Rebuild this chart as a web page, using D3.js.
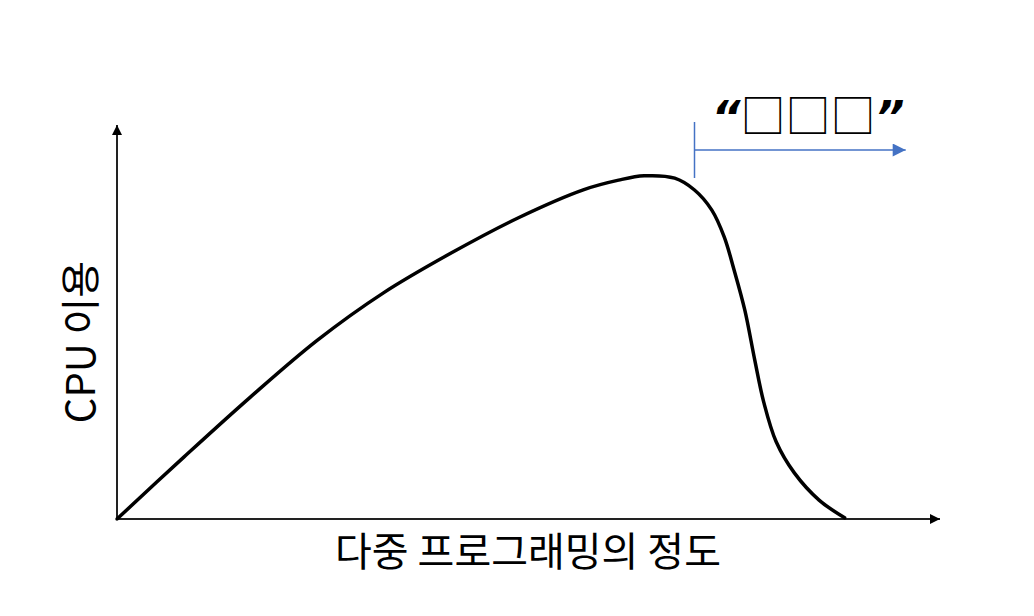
<!DOCTYPE html>
<html>
<head>
<meta charset="utf-8">
<script src="https://cdn.jsdelivr.net/npm/d3@7"></script>
<style>
  body { margin: 0; background: #fff; }
  text { font-family: "Noto Sans CJK KR", "Noto Sans", sans-serif; }
  .quote { font-family: "DejaVu Sans", sans-serif; font-weight: bold; font-style: italic; }
</style>
</head>
<body>
<div id="chart"></div>
<script>
// Degree of multiprogramming vs CPU utilisation
const degree = [0, 0.81, 1.62, 2.43, 3.23, 4.05, 4.86, 5.66, 6.08, 6.39, 6.76, 7.00, 7.21, 7.36, 7.48, 7.61, 7.73, 7.84, 7.99, 8.21, 8.51, 8.82];
const cpuUse = [0, 15.7, 31.0, 45.4, 57.4, 67.5, 76.4, 83.6, 86.0, 87.1, 86.5, 83.5, 78.4, 71.6, 63.2, 53.0, 40.4, 29.6, 19.6, 11.7, 4.8, 0.3];
const thrashStart = 7.0;   // where the blue marker begins
const thrashEnd = 9.56;
const xLabel = "다중 프로그래밍의 정도";
const yLabel = "CPU 이용";
const thrashBoxes = "\u25A1\u25A1\u25A1";

const width = 1034;
const height = 616;
const margin = {top: 125, right: 92, bottom: 97, left: 117};
const innerWidth = width - margin.left - margin.right;
const innerHeight = height - margin.top - margin.bottom;

const svg = d3.select("#chart")
  .append("svg")
    .attr("width", width)
    .attr("height", height);

const defs = svg.append("defs");
defs.append("marker")
    .attr("id", "arrowBlack")
    .attr("viewBox", "0 0 10 10")
    .attr("refX", 10).attr("refY", 5)
    .attr("markerWidth", 10).attr("markerHeight", 10)
    .attr("markerUnits", "userSpaceOnUse")
    .attr("orient", "auto")
  .append("path")
    .attr("d", "M0,0L10,5L0,10Z")
    .attr("fill", "#000");
defs.append("marker")
    .attr("id", "arrowBlue")
    .attr("viewBox", "0 0 10 10")
    .attr("refX", 10).attr("refY", 5)
    .attr("markerWidth", 16).attr("markerHeight", 13)
    .attr("markerUnits", "userSpaceOnUse")
    .attr("orient", "auto")
  .append("path")
    .attr("d", "M0,0L10,5L0,10Z")
    .attr("fill", "#4472C4");

const innerChart = svg.append("g")
    .attr("transform", `translate(${margin.left}, ${margin.top})`);

// scales
const xScale = d3.scaleLinear().domain([0, 10]).range([0, innerWidth]);
const yScale = d3.scaleLinear().domain([0, 100]).range([innerHeight, 0]);

// axes (plain arrows, no ticks)
innerChart.append("line")
    .attr("x1", xScale(0)).attr("y1", yScale(0))
    .attr("x2", xScale(0)).attr("y2", 0)
    .attr("stroke", "#222").attr("stroke-width", 2)
    .attr("marker-end", "url(#arrowBlack)");
innerChart.append("line")
    .attr("x1", xScale(0)).attr("y1", yScale(0))
    .attr("x2", innerWidth - 2).attr("y2", yScale(0))
    .attr("stroke", "#222").attr("stroke-width", 2)
    .attr("marker-end", "url(#arrowBlack)");

// curve
const line = d3.line()
    .x((d, i) => xScale(degree[i]))
    .y(d => yScale(d))
    .curve(d3.curveCatmullRom);
innerChart.append("path")
    .datum(cpuUse)
    .attr("d", line)
    .attr("fill", "none")
    .attr("stroke", "#000")
    .attr("stroke-width", 3.5)
    .attr("stroke-linecap", "round");

// thrashing marker
innerChart.append("line")
    .attr("x1", xScale(thrashStart)).attr("y1", -3)
    .attr("x2", xScale(thrashStart)).attr("y2", 53)
    .attr("stroke", "#4472C4").attr("stroke-width", 1.5);
innerChart.append("line")
    .attr("x1", xScale(thrashStart)).attr("y1", 25)
    .attr("x2", xScale(thrashEnd)).attr("y2", 25)
    .attr("stroke", "#4472C4").attr("stroke-width", 1.5)
    .attr("marker-end", "url(#arrowBlue)");
const thrashText = innerChart.append("text")
    .attr("x", 691).attr("y", 8)
    .attr("text-anchor", "middle")
    .attr("font-size", 45);
thrashText.append("tspan").attr("class", "quote").text("\u201C");
thrashText.append("tspan").text(thrashBoxes);
thrashText.append("tspan").attr("class", "quote").text("\u201D");

// axis labels
svg.append("text")
    .attr("x", 528).attr("y", 566)
    .attr("text-anchor", "middle")
    .attr("font-size", 40)
    .text(xLabel);
svg.append("text")
    .attr("transform", "translate(95, 342) rotate(-90)")
    .attr("text-anchor", "middle")
    .attr("font-size", 40)
    .text(yLabel);
</script>
</body>
</html>
